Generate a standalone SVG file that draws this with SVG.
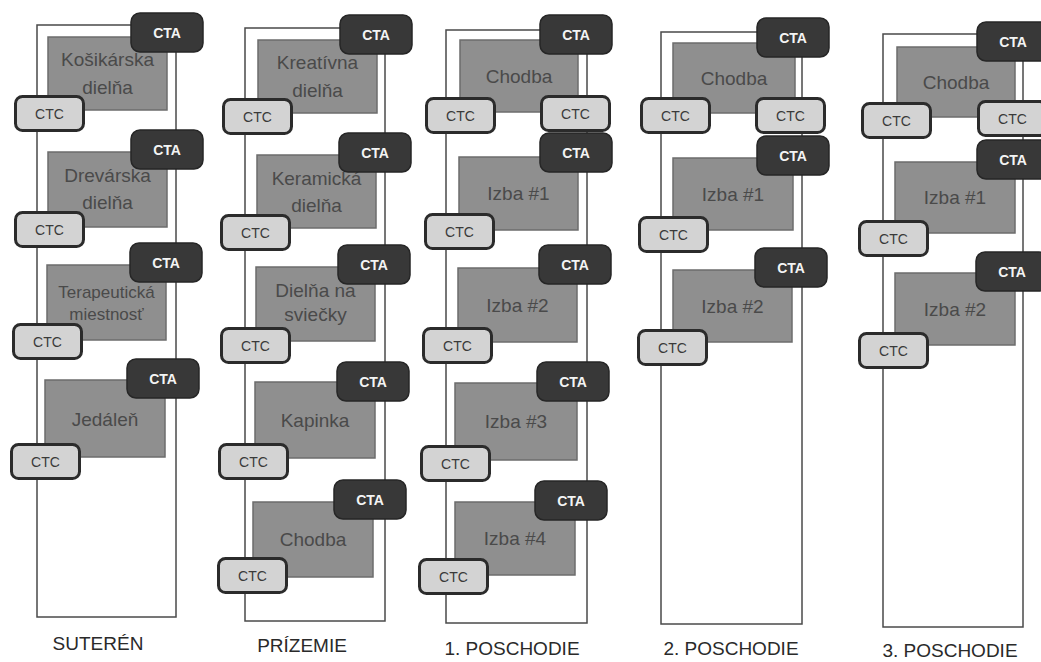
<svg xmlns="http://www.w3.org/2000/svg" width="1041" height="662" viewBox="0 0 1041 662">
<style>
.bg{fill:#ffffff}
.frame{fill:none;stroke:#4a4a4a;stroke-width:1.5}
.room rect{fill:#8f8f8f;stroke:#6c6c6c;stroke-width:1.5}
.room text{font-family:"Liberation Sans",Arial,sans-serif;font-size:19px;fill:#4a4a4a;text-anchor:middle}
.room text.sm{font-size:17px}
.cta-box{fill:#383838;stroke:#262626;stroke-width:1.5}
.cta-txt{font-family:"Liberation Sans",Arial,sans-serif;font-size:14px;font-weight:bold;fill:#f4f4f4;text-anchor:middle}
.ctc-box{fill:#d3d3d3;stroke:#2b2b2b;stroke-width:3}
.ctc-txt{font-family:"Liberation Sans",Arial,sans-serif;font-size:14px;fill:#3a3a3a;text-anchor:middle}
.label{font-family:"Liberation Sans",Arial,sans-serif;font-size:19px;fill:#2a2a2a;text-anchor:middle}
</style>
<defs>
<g id="ctaShape"><rect class="cta-box" x="0" y="0" width="72" height="39" rx="9"/><text class="cta-txt" x="36" y="25">CTA</text></g>
<g id="ctcShape"><rect class="ctc-box" x="1.5" y="1.5" width="68" height="34" rx="7"/><text class="ctc-txt" x="35.5" y="23.5">CTC</text></g>
</defs>
<rect class="bg" x="0" y="0" width="1041" height="662"/>
<g id="connectors"/>

<!-- SUTERÉN -->
<g id="suteren">
<rect class="frame" x="37" y="25" width="139" height="592"/>
<text class="label" x="98" y="650">SUTERÉN</text>
</g>
<g id="s-kosikarska" class="room"><rect x="48" y="37" width="119" height="73"/><text x="107.5" y="66">Košikárska</text><text x="107.5" y="94">dielňa</text></g>
<g id="s-cta1" class="cta"><use href="#ctaShape" x="131" y="13"/></g>
<g id="s-ctc1" class="ctc"><use href="#ctcShape" x="14" y="95"/></g>
<g id="s-drevarska" class="room"><rect x="48" y="152" width="119" height="75"/><text x="107.5" y="182">Drevárska</text><text x="107.5" y="209">dielňa</text></g>
<g id="s-cta2" class="cta"><use href="#ctaShape" x="131" y="130"/></g>
<g id="s-ctc2" class="ctc"><use href="#ctcShape" x="14" y="211"/></g>
<g id="s-terapeuticka" class="room"><rect x="47" y="265" width="119" height="75"/><text class="sm" x="106.5" y="298">Terapeutická</text><text class="sm" x="106.5" y="320">miestnosť</text></g>
<g id="s-cta3" class="cta"><use href="#ctaShape" x="130" y="243"/></g>
<g id="s-ctc3" class="ctc"><use href="#ctcShape" x="12" y="323"/></g>
<g id="s-jedalen" class="room"><rect x="45" y="380" width="120" height="77"/><text x="105" y="426">Jedáleň</text></g>
<g id="s-cta4" class="cta"><use href="#ctaShape" x="127" y="359"/></g>
<g id="s-ctc4" class="ctc"><use href="#ctcShape" x="10" y="443"/></g>

<!-- PRÍZEMIE -->
<g id="prizemie">
<rect class="frame" x="245" y="28" width="140" height="593"/>
<text class="label" x="302" y="652">PRÍZEMIE</text>
</g>
<g id="p-kreativna" class="room"><rect x="258" y="40" width="119" height="73"/><text x="317.5" y="69">Kreatívna</text><text x="317.5" y="97">dielňa</text></g>
<g id="p-cta1" class="cta"><use href="#ctaShape" x="340" y="15"/></g>
<g id="p-ctc1" class="ctc"><use href="#ctcShape" x="222" y="98"/></g>
<g id="p-keramicka" class="room"><rect x="257" y="155" width="119" height="73"/><text x="316.5" y="185">Keramická</text><text x="316.5" y="212">dielňa</text></g>
<g id="p-cta2" class="cta"><use href="#ctaShape" x="339" y="133"/></g>
<g id="p-ctc2" class="ctc"><use href="#ctcShape" x="220" y="214"/></g>
<g id="p-sviecky" class="room"><rect x="256" y="267" width="119" height="74"/><text x="315.5" y="297">Dielňa na</text><text x="315.5" y="321">sviečky</text></g>
<g id="p-cta3" class="cta"><use href="#ctaShape" x="338" y="245"/></g>
<g id="p-ctc3" class="ctc"><use href="#ctcShape" x="220" y="327"/></g>
<g id="p-kapinka" class="room"><rect x="255" y="382" width="120" height="76"/><text x="315" y="427">Kapinka</text></g>
<g id="p-cta4" class="cta"><use href="#ctaShape" x="337" y="362"/></g>
<g id="p-ctc4" class="ctc"><use href="#ctcShape" x="218" y="443"/></g>
<g id="p-chodba" class="room"><rect x="253" y="502" width="120" height="75"/><text x="313" y="546">Chodba</text></g>
<g id="p-cta5" class="cta"><use href="#ctaShape" x="334" y="480"/></g>
<g id="p-ctc5" class="ctc"><use href="#ctcShape" x="217" y="557"/></g>

<!-- 1. POSCHODIE -->
<g id="poschodie1">
<rect class="frame" x="446" y="30" width="141" height="593"/>
<text class="label" x="512" y="655">1. POSCHODIE</text>
</g>
<g id="p1-chodba" class="room"><rect x="460" y="40" width="118" height="72"/><text x="519" y="83">Chodba</text></g>
<g id="p1-cta0" class="cta"><use href="#ctaShape" x="540" y="15"/></g>
<g id="p1-ctc0l" class="ctc"><use href="#ctcShape" x="425" y="97"/></g>
<g id="p1-ctc0r" class="ctc"><use href="#ctcShape" x="540" y="95"/></g>
<g id="p1-izba1" class="room"><rect x="459" y="157" width="119" height="73"/><text x="518.5" y="200">Izba #1</text></g>
<g id="p1-cta1" class="cta"><use href="#ctaShape" x="540" y="133"/></g>
<g id="p1-ctc1" class="ctc"><use href="#ctcShape" x="424" y="213"/></g>
<g id="p1-izba2" class="room"><rect x="458" y="268" width="119" height="74"/><text x="517.5" y="312">Izba #2</text></g>
<g id="p1-cta2" class="cta"><use href="#ctaShape" x="539" y="245"/></g>
<g id="p1-ctc2" class="ctc"><use href="#ctcShape" x="422" y="327"/></g>
<g id="p1-izba3" class="room"><rect x="455" y="383" width="122" height="77"/><text x="516" y="428">Izba #3</text></g>
<g id="p1-cta3" class="cta"><use href="#ctaShape" x="537" y="362"/></g>
<g id="p1-ctc3" class="ctc"><use href="#ctcShape" x="420" y="445"/></g>
<g id="p1-izba4" class="room"><rect x="455" y="502" width="120" height="73"/><text x="515" y="545">Izba #4</text></g>
<g id="p1-cta4" class="cta"><use href="#ctaShape" x="535" y="481"/></g>
<g id="p1-ctc4" class="ctc"><use href="#ctcShape" x="418" y="558"/></g>

<!-- 2. POSCHODIE -->
<g id="poschodie2">
<rect class="frame" x="661" y="32" width="141" height="592"/>
<text class="label" x="731" y="655">2. POSCHODIE</text>
</g>
<g id="p2-chodba" class="room"><rect x="673" y="43" width="122" height="70"/><text x="734" y="85">Chodba</text></g>
<g id="p2-cta0" class="cta"><use href="#ctaShape" x="757" y="18"/></g>
<g id="p2-ctc0l" class="ctc"><use href="#ctcShape" x="640" y="97"/></g>
<g id="p2-ctc0r" class="ctc"><use href="#ctcShape" x="755" y="97"/></g>
<g id="p2-izba1" class="room"><rect x="673" y="158" width="120" height="72"/><text x="733" y="201">Izba #1</text></g>
<g id="p2-cta1" class="cta"><use href="#ctaShape" x="757" y="136"/></g>
<g id="p2-ctc1" class="ctc"><use href="#ctcShape" x="638" y="216"/></g>
<g id="p2-izba2" class="room"><rect x="673" y="270" width="119" height="72"/><text x="732.5" y="313">Izba #2</text></g>
<g id="p2-cta2" class="cta"><use href="#ctaShape" x="755" y="248"/></g>
<g id="p2-ctc2" class="ctc"><use href="#ctcShape" x="637" y="329"/></g>

<!-- 3. POSCHODIE -->
<g id="poschodie3">
<rect class="frame" x="883" y="34" width="140" height="593"/>
<text class="label" x="950" y="657">3. POSCHODIE</text>
</g>
<g id="p3-chodba" class="room"><rect x="897" y="47" width="118" height="70"/><text x="956" y="89">Chodba</text></g>
<g id="p3-cta0" class="cta"><use href="#ctaShape" x="977" y="22"/></g>
<g id="p3-ctc0l" class="ctc"><use href="#ctcShape" x="861" y="102"/></g>
<g id="p3-ctc0r" class="ctc"><use href="#ctcShape" x="977" y="100"/></g>
<g id="p3-izba1" class="room"><rect x="895" y="162" width="120" height="71"/><text x="955" y="204">Izba #1</text></g>
<g id="p3-cta1" class="cta"><use href="#ctaShape" x="977" y="140"/></g>
<g id="p3-ctc1" class="ctc"><use href="#ctcShape" x="858" y="220"/></g>
<g id="p3-izba2" class="room"><rect x="895" y="273" width="120" height="72"/><text x="955" y="316">Izba #2</text></g>
<g id="p3-cta2" class="cta"><use href="#ctaShape" x="976" y="252"/></g>
<g id="p3-ctc2" class="ctc"><use href="#ctcShape" x="858" y="332"/></g>
</svg>
